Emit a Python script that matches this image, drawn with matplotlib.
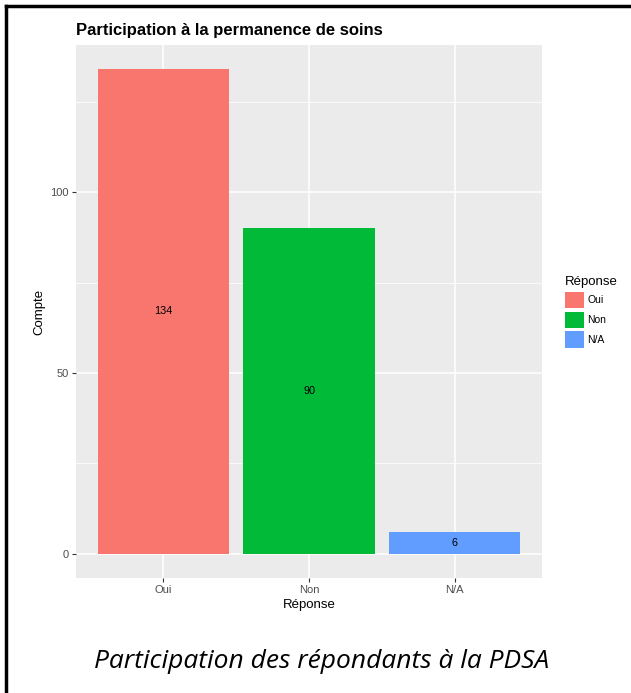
import numpy as np
import matplotlib.pyplot as plt
from matplotlib.patches import Patch
from matplotlib.lines import Line2D

# réponses et effectifs
categories = ["Oui", "Non", "N/A"]
counts = [134, 90, 6]
colors = ["#F8766D", "#00BA38", "#619CFF"]

fig = plt.figure(figsize=(6.31, 6.93), dpi=100)
ax = fig.add_axes([76 / 631, 1 - 578 / 693, 466 / 631, 533 / 693])

x = np.arange(1, len(categories) + 1)
ax.set_facecolor("#EBEBEB")
ax.bar(x, counts, width=0.9, color=colors, zorder=3)
for xi, c in zip(x, counts):
    ax.text(xi, c / 2, str(c), ha="center", va="center", fontsize=7.8,
            family="Liberation Sans", color="black", zorder=4)

ax.set_xlim(0.4, 3.6)
ax.set_ylim(-6.7, 140.7)
ax.set_xticks(x)
ax.set_xticklabels(categories)
ax.set_yticks([0, 50, 100])
ax.set_yticks([25, 75, 125], minor=True)
ax.grid(which="major", color="white", linewidth=1.1, zorder=0)
ax.grid(which="minor", axis="y", color="white", linewidth=0.55, zorder=0)
ax.set_axisbelow(True)
for s in ax.spines.values():
    s.set_visible(False)
ax.tick_params(which="major", length=3, width=0.8, color="#333333",
               labelsize=8, labelcolor="#4D4D4D", pad=2)
ax.tick_params(which="minor", length=0)
for lab in ax.get_xticklabels() + ax.get_yticklabels():
    lab.set_family("Liberation Sans")

ax.set_xlabel("Réponse", fontsize=9.5, family="Liberation Sans", labelpad=3)
ax.set_ylabel("Compte", fontsize=9.5, family="Liberation Sans", labelpad=4)

fig.text(76 / 631, 1 - 30 / 693, "Participation à la permanence de soins",
         fontsize=12, fontweight="bold", family="Liberation Sans",
         ha="left", va="center")

handles = [Patch(facecolor=c, edgecolor="none") for c in colors]
leg = fig.legend(handles, categories, title="Réponse", loc="upper left",
                 bbox_to_anchor=(557 / 631, 1 - 268 / 693), frameon=False,
                 prop={"family": "Liberation Sans", "size": 7.5},
                 handlelength=1.75, handleheight=2.0, handletextpad=0.35,
                 labelspacing=0.35, borderpad=0.3)
leg.get_title().set_family("Liberation Sans")
leg.get_title().set_fontsize(9.5)
leg._legend_box.align = "left"

fig.text(322 / 631, 1 - 661 / 693, "Participation des répondants à la PDSA",
         fontsize=19, style="italic", family="Open Sans",
         ha="center", va="center")

# cadre noir (haut et gauche)
fig.add_artist(Line2D([6 / 631, 1], [1 - 6 / 693, 1 - 6 / 693],
                      color="black", linewidth=2.5, transform=fig.transFigure))
fig.add_artist(Line2D([6 / 631, 6 / 631], [0, 1 - 6 / 693],
                      color="black", linewidth=2.5, transform=fig.transFigure))

fig.savefig("out.png", dpi=100)
